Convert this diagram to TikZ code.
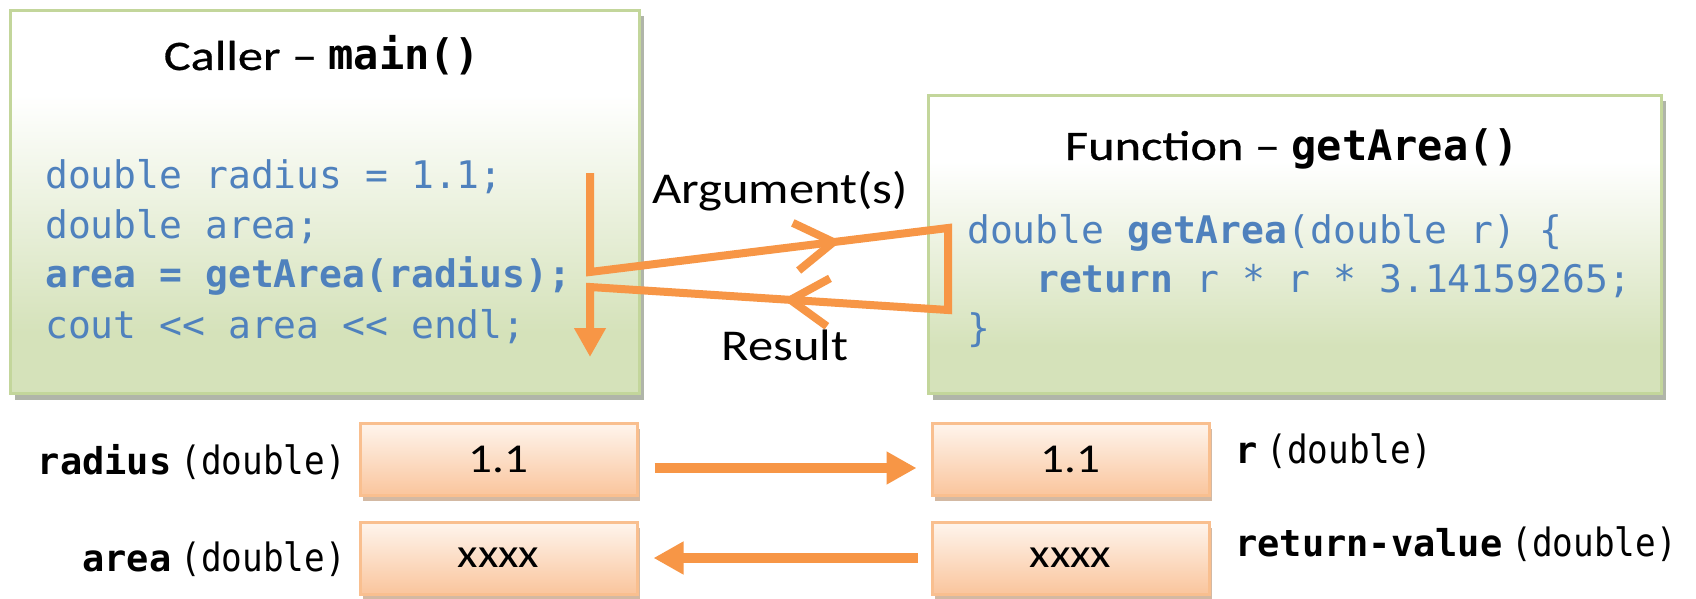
\documentclass[tikz,border=0pt]{standalone}
\usepackage{fontspec}
\setmainfont{Carlito}
\newfontfamily\titlefont{Carlito}[FakeStretch=1.2, FakeBold=0.6]
\newfontfamily\labelfont{Carlito}[FakeStretch=1.15]
\newfontfamily\codefont{DejaVu Sans Mono}
\newfontfamily\narrowmono{DejaVu Sans Mono}[FakeStretch=0.88]
\usetikzlibrary{arrows.meta,shadows,decorations.markings}

\definecolor{gbot}{HTML}{D5E2BA}
\definecolor{gline}{HTML}{C3D69B}
\definecolor{gshadow}{HTML}{A3A99A}
\definecolor{flow}{HTML}{F79646}
\definecolor{codeblue}{HTML}{4F81BD}
\definecolor{ptop}{HTML}{FEF3EA}
\definecolor{pbot}{HTML}{FAC7A0}
\definecolor{pline}{HTML}{F9BF8F}
\definecolor{pshadow}{HTML}{C9A88C}

% vertical fades; the filled area maps to 25bp..75bp
\pgfdeclareverticalshading{greenfade}{100bp}{color(0bp)=(gbot); color(33bp)=(gbot); color(64bp)=(white); color(100bp)=(white)}
\pgfdeclareverticalshading{peachfade}{100bp}{color(0bp)=(pbot); color(27bp)=(pbot); color(73bp)=(ptop); color(100bp)=(ptop)}

\tikzset{
  panel/.style={draw=gline, line width=3pt, shading=greenfade, inner sep=0pt,
    anchor=north west,
    general shadow={fill=gshadow, opacity=0.85, shadow xshift=4pt, shadow yshift=-6pt}},
  cell/.style={draw=pline, line width=3pt, shading=peachfade, inner sep=0pt,
    minimum width=277pt, minimum height=72pt,
    font=\labelfont\fontsize{41}{48}\selectfont,
    general shadow={fill=pshadow, opacity=0.8, shadow xshift=3pt, shadow yshift=-6pt}},
  heading/.style={anchor=base, inner sep=0pt, font=\titlefont\fontsize{42}{50}\selectfont},
  code/.style={anchor=base west, inner sep=0pt, text=codeblue,
    font=\codefont\fontsize{38}{46}\selectfont},
  varlabel/.style={inner sep=0pt, font=\codefont\fontsize{37}{44}\selectfont},
  flowtext/.style={anchor=base, inner sep=0pt, font=\labelfont\fontsize{44}{52}\selectfont},
  flowline/.style={draw=flow, line width=8pt, line join=miter},
  pass/.style={draw=flow, line width=10pt, -{Triangle[width=31pt,length=30pt]}},
  chevron/.style={decorate, decoration={markings,
    mark=at position #1 with {\draw[flowline] (-38pt,24pt) -- (0pt,0pt) -- (-38pt,-24pt);}}}
}

\newcommand{\dbl}{{\narrowmono\fontsize{39}{46}\selectfont(double)}}

\begin{document}
\begin{tikzpicture}[x=1pt,y=-1pt]
  \useasboundingbox (0,0) rectangle (1696,599);
  \fill[white] (0,0) rectangle (1696,599);

  % the two code panels
  \node[panel, minimum width=629pt, minimum height=383pt] (caller) at (9,9) {};
  \node[panel, minimum width=733pt, minimum height=298pt] (callee) at (927,94) {};

  \node[heading] (callerTitle) at (322,70) {Caller – {\codefont\bfseries main()}};
  \node[heading] (calleeTitle) at (1292,160) {Function – {\codefont\bfseries getArea()}};

  \node[code] (c1) at (45,188) {double radius = 1.1;};
  \node[code] (c2) at (45,238) {double area;};
  \node[code] (c3) at (45,287) {\bfseries area = getArea(radius);};
  \node[code] (c4) at (45,338) {cout << area << endl;};

  \node[code] (f1) at (967,243) {double \textbf{getArea}(double r) \{};
  \node[code] (f2) at (1036,292) {\textbf{return} r * r * 3.14159265;};
  \node[code] (f3) at (967,341) {\}};

  % call and return flow
  \coordinate (fA) at (590,173);
  \coordinate (fB) at (590,272);
  \coordinate (fC) at (948,228);
  \coordinate (fD) at (948,310);
  \coordinate (fE) at (590,287);
  \coordinate (fF) at (590,357);
  \draw[flowline, -{Triangle[width=30pt,length=29pt]}]
    (fA) -- (fB) -- (fC) -- (fD) -- (fE) -- (fF);
  \path[chevron=0.68] (fB) -- (fC);
  \path[chevron=0.44] (fD) -- (fE);

  \node[flowtext] (argText) at (780,203) {Argument(s)};
  \node[flowtext] (resText) at (785,360) {Result};

  % storage cells
  \node[cell] (vL1) at (498.5,459) {1.1};
  \node[cell] (vR1) at (1070.5,459) {1.1};
  \node[cell] (vL2) at (498.5,558) {xxxx};
  \node[cell] (vR2) at (1070.5,558) {xxxx};

  \draw[pass, shorten <=16pt, shorten >=14pt] ([yshift=-9pt]vL1.east) -- ([yshift=-9pt]vR1.west);
  \draw[pass, shorten <=13pt, shorten >=15pt] (vR2.west) -- (vL2.east);

  \node[varlabel, anchor=base east] (radiusLab) at (346,474) {\textbf{radius}\hspace{9pt}\dbl};
  \node[varlabel, anchor=base east] (areaLab) at (346,571) {\textbf{area}\hspace{9pt}\dbl};
  \node[varlabel, anchor=base west] (rLab) at (1235,463) {\textbf{r}\hspace{9pt}\dbl};
  \node[varlabel, anchor=base west] (retLab) at (1235,556) {\textbf{return-value}\hspace{9pt}\dbl};
\end{tikzpicture}
\end{document}
